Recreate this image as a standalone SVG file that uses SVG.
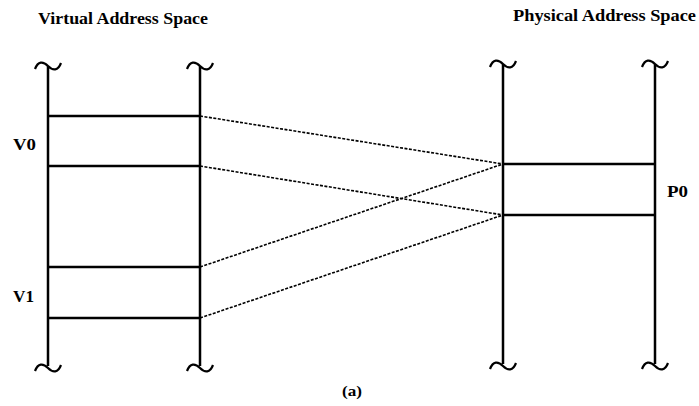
<svg xmlns="http://www.w3.org/2000/svg" width="699" height="406" viewBox="0 0 699 406">
<style>
.t{font-family:"Liberation Serif","Times New Roman",serif;font-weight:bold;fill:#000}
.v{stroke:#000;stroke-width:2.5;fill:none}
.h{stroke:#000;stroke-width:2.5;fill:none}
.tl{stroke:#000;stroke-width:2.2;fill:none}
.d{stroke:#000;stroke-width:1.6;fill:none;stroke-dasharray:3 1.5}
</style>
<defs>
<path id="tilde" d="M-13,3 C-10,-5 -5,-5 0,0 C5,5 10,5 13,-3"/>
</defs>
<rect width="699" height="406" fill="#fff"/>
<text class="t" x="38" y="24" font-size="16" textLength="170" lengthAdjust="spacingAndGlyphs">Virtual Address Space</text>
<text class="t" x="513" y="21" font-size="16" textLength="183" lengthAdjust="spacingAndGlyphs">Physical Address Space</text>
<g id="virtual-space">
<line class="v" x1="48" y1="66" x2="48" y2="366"/>
<line class="v" x1="200" y1="66" x2="200" y2="366"/>
<use href="#tilde" class="tl" x="48" y="66"/>
<use href="#tilde" class="tl" x="200" y="66"/>
<use href="#tilde" class="tl" x="48" y="368"/>
<use href="#tilde" class="tl" x="200" y="368"/>
</g>
<g id="V0">
<line class="h" x1="48" y1="116" x2="200" y2="116"/>
<line class="h" x1="48" y1="166" x2="200" y2="166"/>
<text class="t" x="13" y="150" font-size="17" textLength="23" lengthAdjust="spacingAndGlyphs">V0</text>
</g>
<g id="V1">
<line class="h" x1="48" y1="267" x2="200" y2="267"/>
<line class="h" x1="48" y1="318" x2="200" y2="318"/>
<text class="t" x="13" y="302" font-size="17" textLength="21" lengthAdjust="spacingAndGlyphs">V1</text>
</g>
<g id="physical-space">
<line class="v" x1="503" y1="64" x2="503" y2="364"/>
<line class="v" x1="655" y1="64" x2="655" y2="364"/>
<use href="#tilde" class="tl" x="503" y="64"/>
<use href="#tilde" class="tl" x="655" y="64"/>
<use href="#tilde" class="tl" x="503" y="366"/>
<use href="#tilde" class="tl" x="655" y="366"/>
</g>
<g id="P0">
<line class="h" x1="503" y1="164" x2="655" y2="164"/>
<line class="h" x1="503" y1="215" x2="655" y2="215"/>
<text class="t" x="667" y="197" font-size="16" textLength="21" lengthAdjust="spacingAndGlyphs">P0</text>
</g>
<g id="connectors">
<line class="d" x1="200" y1="116" x2="503" y2="164"/>
<line class="d" x1="200" y1="166" x2="503" y2="215"/>
<line class="d" x1="200" y1="267" x2="503" y2="164"/>
<line class="d" x1="200" y1="318" x2="503" y2="215"/>
</g>
<text class="t" x="342" y="396" font-size="14" textLength="20" lengthAdjust="spacingAndGlyphs">(a)</text>
</svg>
